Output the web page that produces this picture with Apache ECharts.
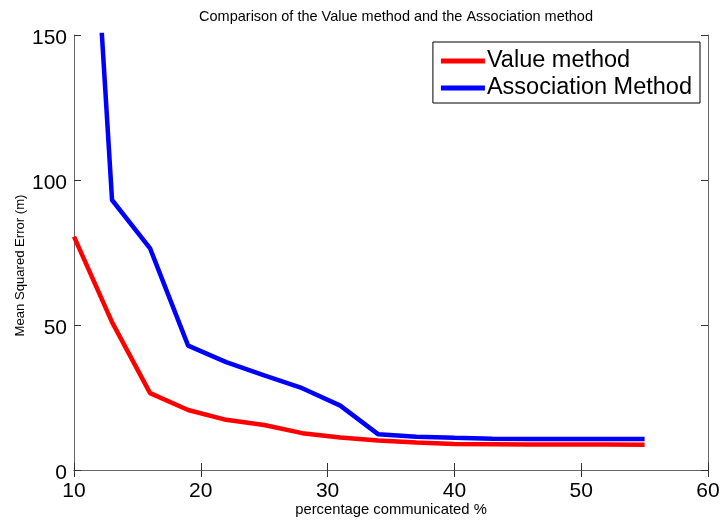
<!DOCTYPE html>
<html><head><meta charset="utf-8">
<script src="https://cdn.jsdelivr.net/npm/echarts@6/dist/echarts.min.js"></script>
<style>html,body{margin:0;padding:0;background:#fff}#c{width:721px;height:522px}</style>
</head><body><div id="c"></div>
<script>
const xValues = [10,13,16,19,22,25,28,31,34,37,40,43,46,49,52,55];
const valueMethod = [80.5,51,26.5,20.7,17.3,15.5,12.7,11.2,10.2,9.5,9.0,8.9,8.8,8.8,8.8,8.7];
const associationMethod = [307,93.1,76.4,42.9,37.2,32.6,28.2,22.2,12.3,11.5,11.1,10.8,10.7,10.7,10.7,10.7];
const xTicks = [10,20,30,40,50,60];
const yTicks = [0,50,100,150];
const font = 'Liberation Sans, Arial, sans-serif';
const chart = echarts.init(document.getElementById('c'));
const pair = a => xValues.map((x,i)=>[x,a[i]]);
const axisCommon = () => ({
  axisLine:{show:true,lineStyle:{color:'#666',width:1}},
  axisTick:{show:true,inside:true,length:7,lineStyle:{color:'#333'}},
  splitLine:{show:false}
});
chart.setOption({
  animation:false,
  title:{text:'Comparison of the Value method and the Association method',left:391,top:4,textAlign:'center',
    textStyle:{fontFamily:font,fontSize:14.5,fontWeight:'normal',color:'#000'}},
  grid:{left:74,top:35,right:13,bottom:52,outerBoundsMode:'none',containLabel:false},
  legend:{right:21,top:42,orient:'vertical',backgroundColor:'#fff',borderColor:'#000',borderWidth:1,
    padding:[7,8,3,8],itemWidth:44,itemHeight:5,itemGap:3,icon:'rect',
    textStyle:{fontFamily:font,fontSize:23.5,color:'#000',padding:[0,0,0,-3]},
    data:['Value method','Association Method']},
  xAxis:[
    Object.assign({type:'value',min:10,max:60,interval:10,
      axisLabel:{fontFamily:font,fontSize:21,color:'#000',margin:11},
      name:'percentage communicated %',nameLocation:'middle',nameGap:32,nameMoveOverlap:false,
      nameTextStyle:{fontFamily:font,fontSize:14.8,color:'#000'}},axisCommon()),
    Object.assign({type:'value',min:10,max:60,interval:10,position:'top',axisLabel:{show:false}},axisCommon())
  ],
  yAxis:[
    Object.assign({type:'value',min:0,max:150,interval:50,
      axisLabel:{fontFamily:font,fontSize:21,color:'#000',margin:7,lineHeight:27,verticalAlign:'top',padding:[-10,0,0,0]},
      name:'Mean Squared Error (m)',nameLocation:'middle',nameGap:47,nameMoveOverlap:false,
      nameTextStyle:{fontFamily:font,fontSize:13.1,color:'#000',padding:[0,26,0,0]}},axisCommon()),
    Object.assign({type:'value',min:0,max:150,interval:50,position:'right',axisLabel:{show:false}},axisCommon())
  ],
  series:[
    {name:'Value method',type:'line',data:pair(valueMethod),showSymbol:false,color:'#ff0000',
      lineStyle:{width:4.5,color:'#ff0000'},clip:true,z:3},
    {name:'Association Method',type:'line',data:pair(associationMethod),showSymbol:false,color:'#0000ff',
      lineStyle:{width:4.5,color:'#0000ff'},clip:true,z:4}
  ]
});
</script></body></html>
